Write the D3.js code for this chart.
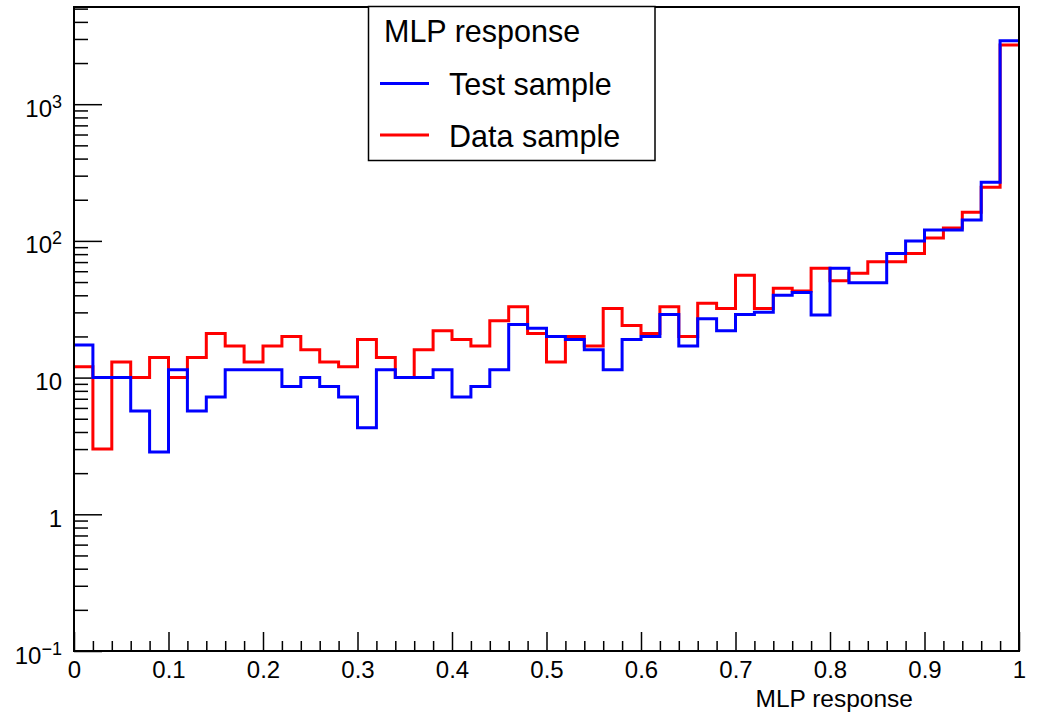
<!DOCTYPE html>
<html>
<head>
<meta charset="utf-8">
<title>MLP response</title>
<script src="https://cdn.jsdelivr.net/npm/d3@7"></script>
<style>
  html, body { margin: 0; padding: 0; background: #fff; }
  svg { display: block; }
  text { font-family: "Liberation Sans", Arial, Helvetica, sans-serif; fill: #000; }
</style>
</head>
<body>
<svg id="chart" width="1037" height="713"></svg>
<script>
// Histogram binning: 50 bins over the MLP response range [0, 1]
const binLow = 0;
const binHigh = 1;
const nBins = 50;

// Test sample (weighted entries per bin)
const testValues = [
  17.3, 10, 10, 5.7, 2.85, 11.4, 5.7, 7.2, 11.4, 11.4,
  11.4, 8.6, 10, 8.6, 7.2, 4.3, 11.4, 10, 10, 11.4,
  7.2, 8.6, 11.4, 24.5, 23, 20, 19, 16, 11.4, 19,
  20, 29, 17, 27, 22, 29, 30, 40, 42, 28.7,
  63, 49.5, 49.5, 81, 100, 120, 120, 142, 268, 2915
];

// Data sample (entries per bin)
const dataValues = [
  12, 3, 13, 10, 14, 10, 14, 21, 17, 13,
  17, 20, 16, 13, 12, 19, 14, 10, 16, 22,
  19, 17, 26, 33, 21, 13, 20, 17, 32, 24,
  21, 33, 20, 35, 32, 56, 32, 45, 43, 63,
  51, 58, 70.5, 70.5, 81, 105, 124, 162, 247, 2710
];

// Axis ticks
const xMajorTicks = [0, 0.1, 0.2, 0.3, 0.4, 0.5, 0.6, 0.7, 0.8, 0.9, 1];
const xTickLabels = ["0", "0.1", "0.2", "0.3", "0.4", "0.5", "0.6", "0.7", "0.8", "0.9", "1"];
const yMajorTicks = [0.1, 1, 10, 100, 1000];
const yTickLabels = [["10", "\u22121"], ["1", null], ["10", null], ["10", "2"], ["10", "3"]];
const yRange = [0.1, 5140];

const legendHeader = "MLP response";
const legendEntries = [
  { label: "Test sample", color: "#0000ff" },
  { label: "Data sample", color: "#ff0000" }
];
const xTitle = "MLP response";

// Frame geometry
const frameLeft = 74, frameRight = 1019, frameTop = 7, frameBottom = 651;

const svg = d3.select("#chart");

const x = d3.scaleLinear().domain([binLow, binHigh]).range([frameLeft, frameRight]);
const y = d3.scaleLog().domain(yRange).range([frameBottom, frameTop]);

const binWidth = (binHigh - binLow) / nBins;
const xMinorTicks = d3.range(nBins + 1).map(i => +(binLow + i * binWidth).toFixed(4))
  .filter(v => !xMajorTicks.some(m => Math.abs(m - v) < 1e-9));

const yMinorTicks = [];
for (let e = -1; e <= 3; e++) {
  for (let k = 2; k <= 9; k++) {
    const v = k * Math.pow(10, e);
    if (v <= yRange[1]) yMinorTicks.push(v);
  }
}

// Clip for the histogram lines
svg.append("defs").append("clipPath").attr("id", "plotClip")
  .append("rect").attr("x", frameLeft).attr("y", frameTop)
  .attr("width", frameRight - frameLeft).attr("height", frameBottom - frameTop);

// X axis: major and minor ticks pointing into the frame
const xMinorAxis = d3.axisBottom(x).tickValues(xMinorTicks).tickSize(-10).tickFormat(() => "");
const xMajorAxis = d3.axisBottom(x).tickValues(xMajorTicks).tickSize(-19).tickPadding(10)
  .tickFormat((d, i) => xTickLabels[i]);

svg.append("g").attr("transform", `translate(0,${frameBottom})`).call(xMinorAxis)
  .call(g => g.select(".domain").remove())
  .call(g => g.selectAll("line").attr("stroke", "#000").attr("stroke-width", 1.5));

svg.append("g").attr("transform", `translate(0,${frameBottom})`).call(xMajorAxis)
  .call(g => g.select(".domain").remove())
  .call(g => g.selectAll("line").attr("stroke", "#000").attr("stroke-width", 1.5))
  .call(g => g.selectAll("text").attr("font-size", 24)
    .attr("font-family", "'Liberation Sans', Arial, Helvetica, sans-serif").attr("fill", "#000"));

// Y axis: log scale, ticks pointing into the frame
const yMinorAxis = d3.axisLeft(y).tickValues(yMinorTicks).tickSize(-14).tickFormat(() => "");
const yMajorAxis = d3.axisLeft(y).tickValues(yMajorTicks).tickSize(-28).tickPadding(12)
  .tickFormat(() => "");

svg.append("g").attr("transform", `translate(${frameLeft},0)`).call(yMinorAxis)
  .call(g => g.select(".domain").remove())
  .call(g => g.selectAll("line").attr("stroke", "#000").attr("stroke-width", 1.5));

const yMajorG = svg.append("g").attr("transform", `translate(${frameLeft},0)`).call(yMajorAxis)
  .call(g => g.select(".domain").remove())
  .call(g => g.selectAll("line").attr("stroke", "#000").attr("stroke-width", 1.5));

yMajorG.selectAll(".tick").each(function(d, i) {
  const g = d3.select(this);
  g.select("text").remove();
  const [base, sup] = yTickLabels[i];
  const t = g.append("text")
    .attr("x", -12)
    .attr("y", 12)
    .attr("text-anchor", "end")
    .attr("font-size", 24)
    .attr("font-family", "'Liberation Sans', Arial, Helvetica, sans-serif")
    .attr("fill", "#000");
  t.append("tspan").text(base);
  if (sup) {
    t.append("tspan").attr("font-size", 18).attr("dy", -9).text(sup);
  }
});

// Histograms drawn as step outlines
const stepLine = d3.line()
  .x(d => x(d[0]))
  .y(d => y(d[1]))
  .curve(d3.curveStepAfter);

function stepPoints(values) {
  const pts = values.map((v, i) => [binLow + i * binWidth, v]);
  pts.push([binHigh, values[values.length - 1]]);
  return pts;
}

const plot = svg.append("g").attr("clip-path", "url(#plotClip)");

plot.append("path")
  .attr("d", stepLine(stepPoints(dataValues)))
  .attr("fill", "none")
  .attr("stroke", legendEntries[1].color)
  .attr("stroke-width", 3)
  .attr("stroke-linejoin", "miter");

plot.append("path")
  .attr("d", stepLine(stepPoints(testValues)))
  .attr("fill", "none")
  .attr("stroke", legendEntries[0].color)
  .attr("stroke-width", 3)
  .attr("stroke-linejoin", "miter");

// Frame
svg.append("rect")
  .attr("x", frameLeft).attr("y", frameTop)
  .attr("width", frameRight - frameLeft).attr("height", frameBottom - frameTop)
  .attr("fill", "none").attr("stroke", "#000").attr("stroke-width", 2);

// Axis title
svg.append("text")
  .attr("x", 913).attr("y", 707)
  .attr("text-anchor", "end")
  .attr("font-size", 24.5)
  .text(xTitle);

// Legend
const legend = svg.append("g");
legend.append("rect")
  .attr("x", 368.5).attr("y", 6.5)
  .attr("width", 286.5).attr("height", 154)
  .attr("fill", "#fff").attr("stroke", "#000").attr("stroke-width", 1.5);

legend.append("text")
  .attr("x", 384).attr("y", 42)
  .attr("font-size", 30.5)
  .text(legendHeader);

const entryY = [83.5, 135];
const entryBase = [95, 146.7];
legendEntries.forEach((e, i) => {
  legend.append("line")
    .attr("x1", 380).attr("x2", 429)
    .attr("y1", entryY[i]).attr("y2", entryY[i])
    .attr("stroke", e.color).attr("stroke-width", 3);
  legend.append("text")
    .attr("x", 449).attr("y", entryBase[i])
    .attr("font-size", 30.5)
    .text(e.label);
});
</script>
</body>
</html>
